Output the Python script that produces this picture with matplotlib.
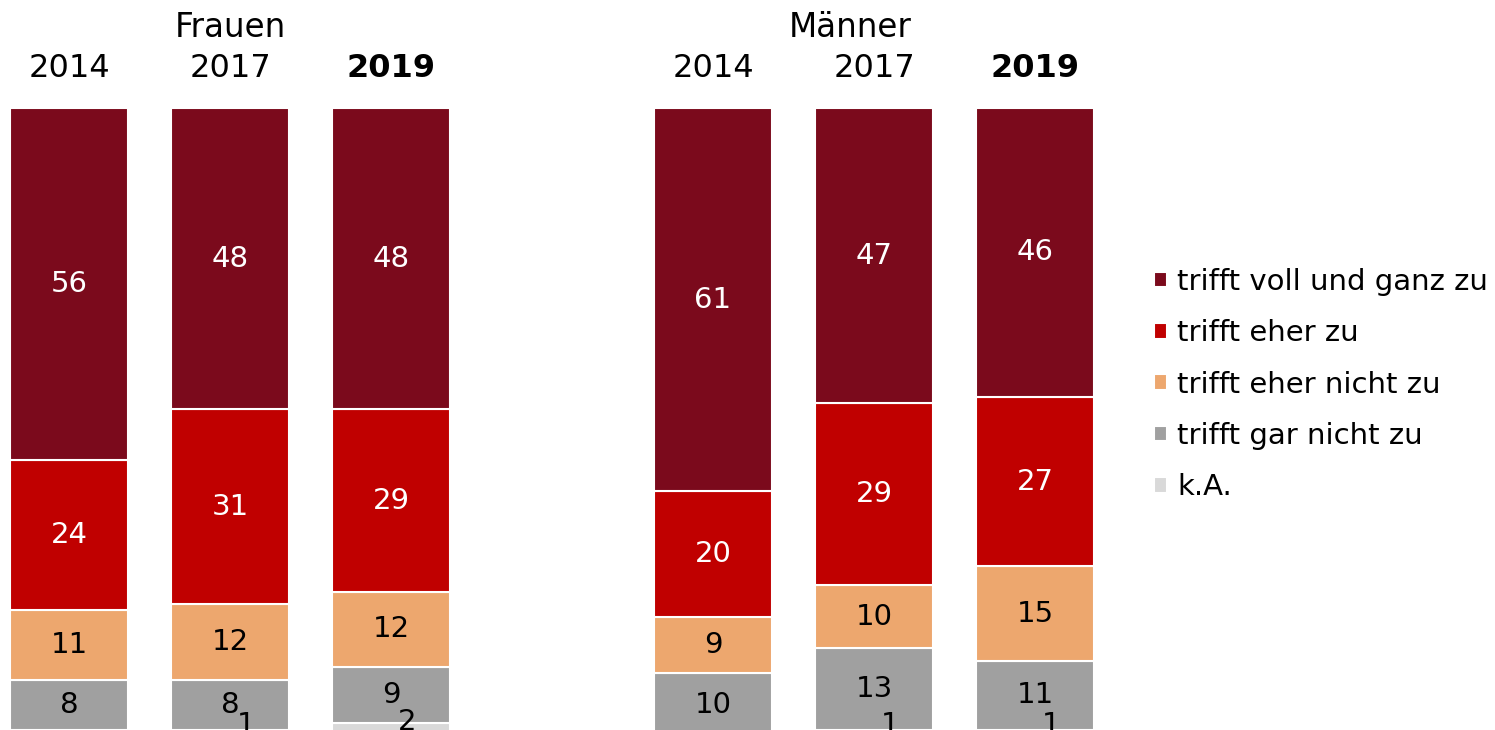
import matplotlib.pyplot as plt
import numpy as np

# Daten (Anteile in %), Reihenfolge: Frauen 2014/2017/2019, Männer 2014/2017/2019
groups = ["Frauen", "Männer"]
years = ["2014", "2017", "2019"]
categories = ["trifft voll und ganz zu", "trifft eher zu", "trifft eher nicht zu",
              "trifft gar nicht zu", "k.A."]
voll_und_ganz = [56, 48, 48, 61, 47, 46]
eher_zu = [24, 31, 29, 20, 29, 27]
eher_nicht = [11, 12, 12, 9, 10, 15]
gar_nicht = [8, 8, 9, 10, 13, 11]
keine_angabe = [1, 1, 2, 0, 1, 1]
# im Original sind nur diese k.A.-Beschriftungen sichtbar
keine_angabe_labels = ["", "1", "2", "", "1", "1"]

colors = ["#7B0A1C", "#C00000", "#EDA76E", "#A0A0A0", "#D9D9D9"]
text_colors = ["white", "white", "black", "black", "black"]

plt.rcParams["font.family"] = "DejaVu Sans"

positions = np.array([0, 1, 2, 4, 5, 6])
stack = [keine_angabe, gar_nicht, eher_nicht, eher_zu, voll_und_ganz]
stack_colors = colors[::-1]
stack_text = text_colors[::-1]
stack_labels = categories[::-1]

fig = plt.figure(figsize=(14.95, 7.3), dpi=100)
ax = fig.add_axes([0, 0, 1, 1])

bottom = np.zeros(len(positions))
handles = {}
for i, (vals, col, tcol, lab) in enumerate(zip(stack, stack_colors, stack_text, stack_labels)):
    vals = np.array(vals, dtype=float)
    bars = ax.bar(positions, vals, bottom=bottom, width=0.73, color=col,
                  edgecolor="white", linewidth=1.5, label=lab)
    handles[lab] = bars
    for j, (x, v, b) in enumerate(zip(positions, vals, bottom)):
        if v <= 0:
            continue
        if i == 0:
            # k.A.-Werte: leicht nach rechts versetzt (wie im Original)
            ax.text(x + 0.1, b + v / 2 + 1.2, keine_angabe_labels[j], ha="center",
                    va="center", fontsize=21, color=tcol)
        else:
            ax.text(x, b + v / 2, f"{int(v)}", ha="center", va="center",
                    fontsize=21, color=tcol)
    bottom += vals

# Jahreszahlen und Gruppentitel
for k, x in enumerate(positions):
    yr = years[k % 3]
    ax.text(x, 106.3, yr, ha="center", va="center", fontsize=23,
            fontweight="bold" if yr == "2019" else "normal")
ax.text(1, 112.9, groups[0], ha="center", va="center", fontsize=23.5)
ax.text(4.85, 112.9, groups[1], ha="center", va="center", fontsize=23.5)

ax.set_xlim(-69 / 161, (1495 - 69) / 161)
ax.set_ylim(0.96, 117.2)
ax.axis("off")

leg_handles = [handles[c] for c in categories]
ax.legend(leg_handles, categories, loc="upper left",
          bbox_to_anchor=(1154 / 1495, 1 - 268 / 730), bbox_transform=fig.transFigure,
          frameon=False, fontsize=21, handlelength=0.45, handleheight=0.45,
          handletextpad=0.35, labelspacing=0.8, borderaxespad=0, borderpad=0)

fig.savefig("out.png", dpi=100)
